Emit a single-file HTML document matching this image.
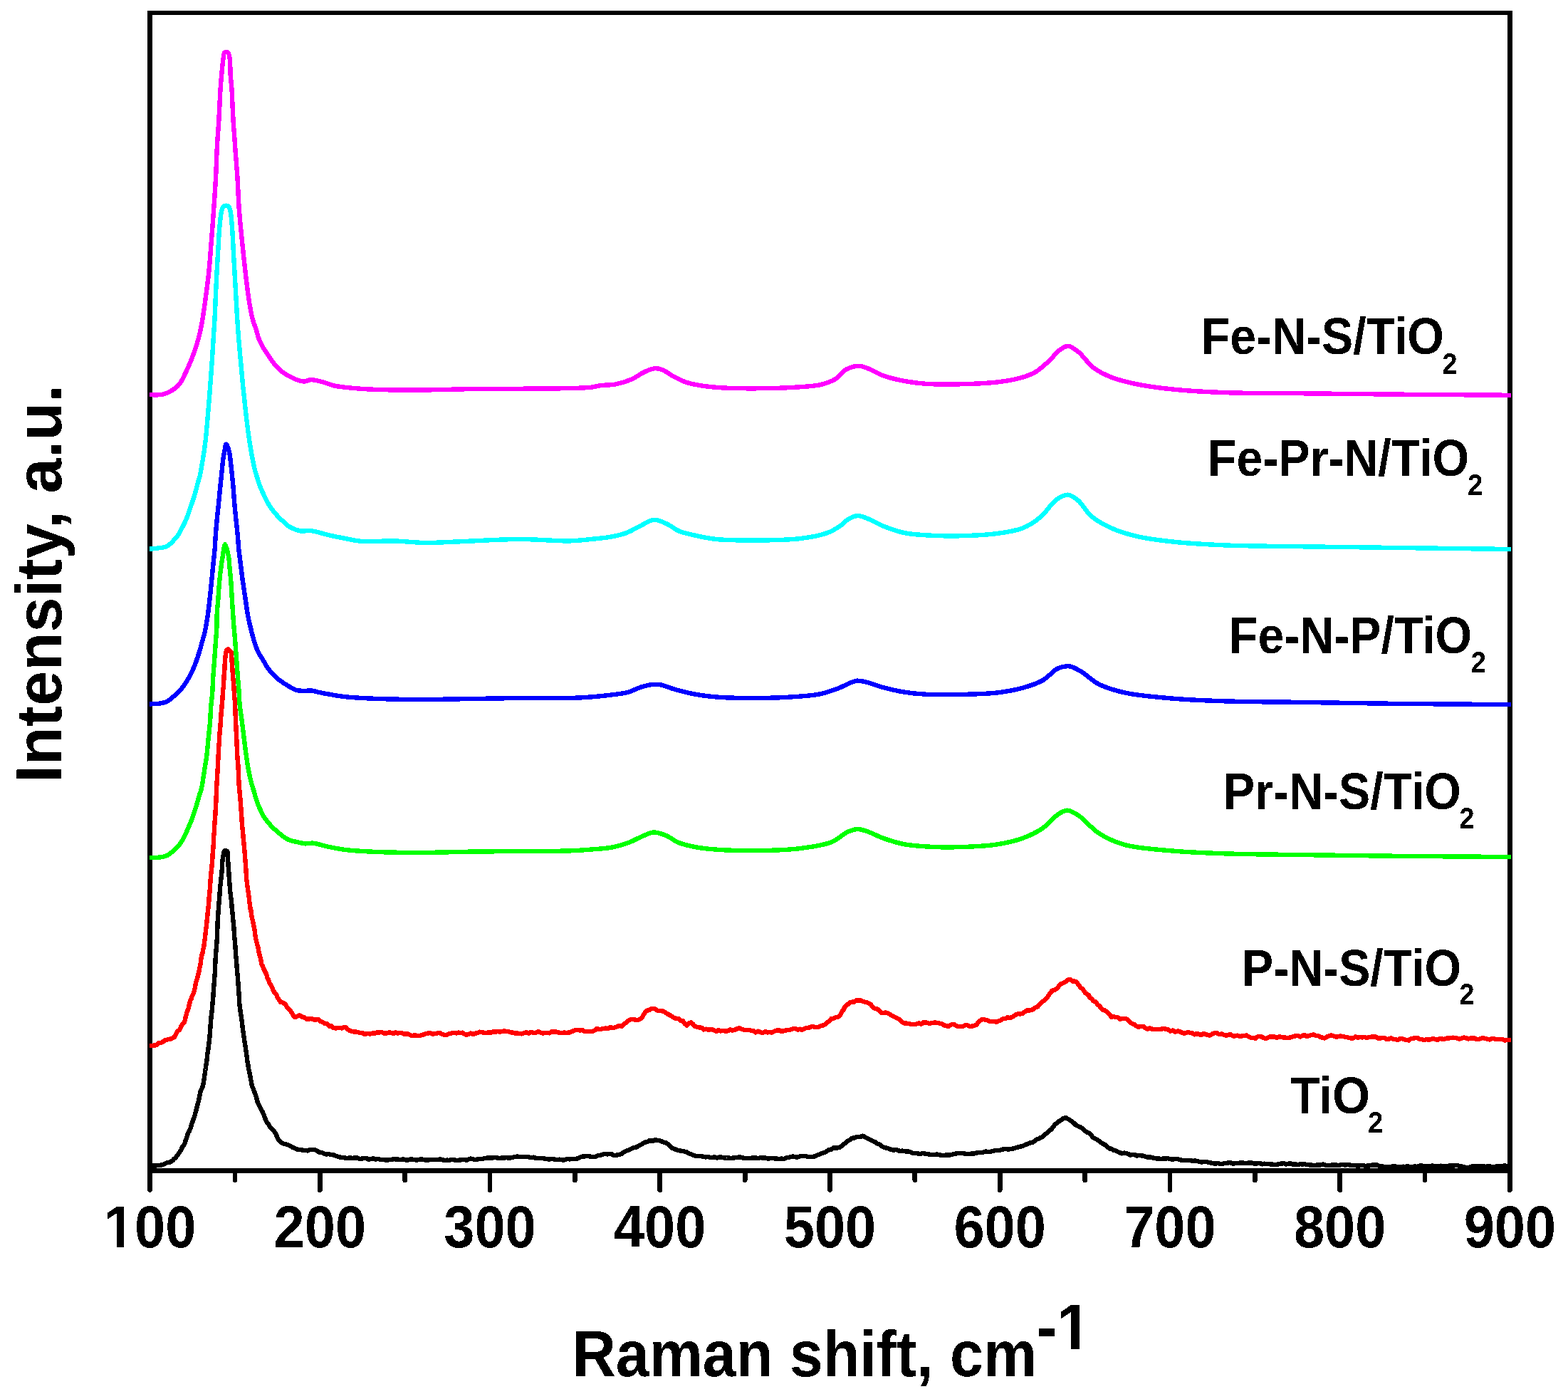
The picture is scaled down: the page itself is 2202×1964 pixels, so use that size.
<!DOCTYPE html>
<html><head><meta charset="utf-8"><title>Raman spectra</title>
<style>html,body{margin:0;padding:0;background:#fff;overflow:hidden}svg{display:block}</style>
</head><body>
<svg width="2202" height="1964" viewBox="0 0 2202 1964" shape-rendering="crispEdges" font-family="'Liberation Sans', Arial, Helvetica, sans-serif" font-weight="bold">
<defs><filter id="bin" filterUnits="userSpaceOnUse" x="0" y="0" width="2202" height="1964"><feComponentTransfer><feFuncA type="discrete" tableValues="0 1"/></feComponentTransfer></filter></defs>
<rect x="0" y="0" width="2202" height="1964" fill="#fff"/>
<rect x="210.55" y="17.90" width="1909.85" height="1625.40" fill="none" stroke="#000" stroke-width="6.6"/>
<line x1="210.55" y1="1643.3" x2="210.55" y2="1670.6" stroke="#000" stroke-width="6.8" stroke-linecap="round"/>
<line x1="329.92" y1="1643.3" x2="329.92" y2="1656.8" stroke="#000" stroke-width="6.8" stroke-linecap="round"/>
<line x1="449.28" y1="1643.3" x2="449.28" y2="1670.6" stroke="#000" stroke-width="6.8" stroke-linecap="round"/>
<line x1="568.65" y1="1643.3" x2="568.65" y2="1656.8" stroke="#000" stroke-width="6.8" stroke-linecap="round"/>
<line x1="688.01" y1="1643.3" x2="688.01" y2="1670.6" stroke="#000" stroke-width="6.8" stroke-linecap="round"/>
<line x1="807.38" y1="1643.3" x2="807.38" y2="1656.8" stroke="#000" stroke-width="6.8" stroke-linecap="round"/>
<line x1="926.74" y1="1643.3" x2="926.74" y2="1670.6" stroke="#000" stroke-width="6.8" stroke-linecap="round"/>
<line x1="1046.11" y1="1643.3" x2="1046.11" y2="1656.8" stroke="#000" stroke-width="6.8" stroke-linecap="round"/>
<line x1="1165.47" y1="1643.3" x2="1165.47" y2="1670.6" stroke="#000" stroke-width="6.8" stroke-linecap="round"/>
<line x1="1284.84" y1="1643.3" x2="1284.84" y2="1656.8" stroke="#000" stroke-width="6.8" stroke-linecap="round"/>
<line x1="1404.21" y1="1643.3" x2="1404.21" y2="1670.6" stroke="#000" stroke-width="6.8" stroke-linecap="round"/>
<line x1="1523.57" y1="1643.3" x2="1523.57" y2="1656.8" stroke="#000" stroke-width="6.8" stroke-linecap="round"/>
<line x1="1642.94" y1="1643.3" x2="1642.94" y2="1670.6" stroke="#000" stroke-width="6.8" stroke-linecap="round"/>
<line x1="1762.30" y1="1643.3" x2="1762.30" y2="1656.8" stroke="#000" stroke-width="6.8" stroke-linecap="round"/>
<line x1="1881.67" y1="1643.3" x2="1881.67" y2="1670.6" stroke="#000" stroke-width="6.8" stroke-linecap="round"/>
<line x1="2001.03" y1="1643.3" x2="2001.03" y2="1656.8" stroke="#000" stroke-width="6.8" stroke-linecap="round"/>
<line x1="2120.40" y1="1643.3" x2="2120.40" y2="1670.6" stroke="#000" stroke-width="6.8" stroke-linecap="round"/>
<path d="M209.8 554.3C216.0 554.1 223.1 554.9 228.5 553.7C233.0 552.7 236.6 551.0 240.3 548.8C244.2 546.5 248.2 543.8 251.4 540.0C255.3 535.4 258.0 528.7 261.1 522.3C264.6 515.1 268.1 506.7 271.1 498.8C274.0 491.0 276.6 483.2 278.7 475.3C280.8 467.5 282.3 459.9 283.8 451.8C285.3 443.4 286.3 435.6 287.7 425.8C289.5 413.1 291.8 396.6 293.3 381.9C294.8 367.3 295.7 352.6 296.9 337.9C298.0 323.3 299.2 308.6 300.2 294.0C301.2 279.3 302.3 264.0 303.0 250.0C303.7 237.3 304.0 224.4 304.5 213.8C304.9 205.6 305.2 199.2 305.7 191.9C306.2 184.6 306.8 177.2 307.3 169.9C307.7 162.6 308.0 155.2 308.4 147.9C308.8 140.6 309.0 133.2 309.5 125.9C310.0 118.6 310.6 111.3 311.3 104.0C312.0 96.7 312.7 87.6 313.6 82.0C314.2 78.5 314.0 74.8 315.5 73.6C316.6 72.8 318.9 72.8 320.0 73.6C321.6 74.8 322.0 78.5 322.6 82.0C323.6 87.6 323.1 96.7 323.6 104.0C324.1 111.3 325.0 118.6 325.5 125.9C326.0 133.2 326.2 140.6 326.5 147.9C326.9 155.2 327.2 162.6 327.6 169.9C328.1 177.2 328.7 184.6 329.2 191.9C329.7 199.2 330.1 205.6 330.7 213.8C331.5 224.4 332.7 237.3 333.5 250.0C334.4 263.9 334.7 279.4 335.8 294.0C336.9 308.7 338.4 323.3 339.9 337.9C341.4 352.6 342.9 367.3 344.6 381.9C346.3 396.6 348.3 413.7 350.3 425.8C351.7 434.4 352.9 441.1 354.7 447.8C356.2 453.5 358.4 458.6 359.9 463.5C361.2 467.7 361.9 471.4 363.4 475.3C364.9 479.3 366.8 483.2 369.0 487.0C371.2 491.0 374.1 494.9 376.7 498.8C379.4 502.8 381.7 506.8 384.9 510.6C388.3 514.7 392.4 519.0 396.7 522.3C401.0 525.6 406.4 528.4 410.8 530.5C414.4 532.2 417.9 533.7 421.0 534.5C423.5 535.2 425.6 535.7 428.0 535.5C430.6 535.3 433.2 533.4 436.0 533.2C438.9 533.0 442.2 533.8 445.0 534.3C447.5 534.8 449.1 535.2 452.0 536.0C456.7 537.3 463.9 540.3 470.5 541.7C477.8 543.3 485.7 543.9 494.0 544.7C503.2 545.6 511.9 546.2 523.4 546.7C539.6 547.4 560.5 547.6 582.0 547.6C608.4 547.6 638.5 546.4 670.0 546.0C706.5 545.6 758.7 545.9 788.0 545.3C805.3 544.9 819.1 544.9 829.4 543.8C835.6 543.1 838.8 541.8 844.1 541.1C850.4 540.3 857.7 540.8 864.7 539.4C872.4 537.9 881.4 535.0 888.2 532.0C893.8 529.5 897.8 525.6 902.9 523.2C908.0 520.7 914.2 517.8 919.0 517.3C922.8 516.9 925.5 517.5 929.3 518.8C934.6 520.6 941.0 526.0 947.0 529.1C952.8 532.1 958.0 534.9 964.6 537.0C972.4 539.5 981.9 541.0 991.0 542.3C1000.5 543.6 1009.7 544.2 1020.5 544.7C1033.7 545.3 1049.9 545.4 1064.6 545.3C1079.3 545.2 1094.0 545.0 1108.7 544.1C1123.4 543.2 1141.0 542.8 1152.8 540.0C1161.1 538.0 1167.3 535.7 1173.3 532.0C1179.0 528.5 1182.5 521.8 1188.0 518.8C1193.3 515.9 1200.4 513.9 1205.7 513.8C1210.0 513.7 1212.9 515.1 1217.4 516.7C1224.0 519.0 1232.6 524.6 1241.0 527.6C1250.1 530.8 1260.5 533.1 1270.4 535.0C1280.1 536.8 1289.0 538.0 1299.8 538.8C1313.0 539.7 1328.2 539.7 1343.8 539.4C1361.4 539.1 1383.9 538.3 1400.0 536.5C1412.3 535.1 1422.7 533.4 1432.2 530.8C1440.2 528.6 1447.0 526.4 1453.6 522.6C1460.1 518.9 1465.7 513.5 1471.5 508.3C1477.6 502.8 1483.9 494.2 1489.4 490.4C1493.2 487.9 1496.3 485.6 1500.1 485.8C1504.6 486.1 1509.4 490.1 1514.4 494.0C1521.2 499.3 1527.9 510.5 1535.9 516.5C1543.5 522.2 1551.7 526.0 1561.0 529.7C1571.7 533.9 1583.5 536.7 1596.7 539.4C1612.7 542.7 1631.2 545.0 1650.4 546.9C1672.5 549.1 1695.6 550.3 1721.9 551.2C1754.0 552.3 1790.9 551.9 1829.2 552.3C1873.4 552.7 1924.0 553.3 1972.2 553.7C2021.6 554.1 2072.1 554.4 2122.0 554.8" fill="none" stroke="#ff00ff" stroke-width="6.4" stroke-linejoin="round" stroke-linecap="butt" shape-rendering="crispEdges"/>
<path d="M209.8 770.8C214.1 770.3 218.4 770.0 222.6 769.4C226.6 768.8 231.0 768.7 234.4 767.0C237.6 765.4 240.1 762.5 242.6 760.0C245.2 757.4 247.6 754.8 249.7 751.7C251.9 748.5 253.7 744.7 255.6 741.1C257.6 737.3 259.6 733.7 261.4 729.4C263.5 724.4 265.4 718.5 267.3 712.9C269.3 707.1 271.4 701.2 273.2 695.3C275.0 689.4 276.5 682.7 277.9 677.6C279.0 673.8 279.9 671.7 280.8 667.6C282.2 661.4 283.7 651.9 285.0 644.1C286.3 636.3 287.4 628.5 288.4 620.6C289.3 612.8 290.0 604.9 290.7 597.0C291.4 589.2 292.0 581.3 292.7 573.5C293.3 565.7 293.9 558.8 294.6 550.0C295.5 538.6 296.6 523.4 297.5 510.6C298.3 498.5 299.0 486.3 299.7 475.3C300.3 465.6 300.9 458.0 301.5 447.8C302.2 434.9 302.7 418.5 303.4 403.8C304.1 389.2 304.9 374.5 305.8 359.9C306.7 345.2 307.4 327.8 308.6 315.9C309.4 307.6 310.0 299.7 311.5 295.0C312.3 292.4 313.0 290.2 314.5 289.3C316.0 288.4 319.1 288.4 320.5 289.3C322.0 290.2 322.5 292.4 323.2 295.0C324.6 299.7 325.0 307.6 325.7 315.9C326.8 327.9 327.4 345.2 328.2 359.9C329.0 374.5 329.9 389.2 330.7 403.8C331.5 418.5 332.4 434.9 333.2 447.8C333.9 458.0 334.4 465.6 335.2 475.3C336.1 486.3 337.2 498.8 338.3 510.6C339.4 522.3 340.5 534.8 341.6 545.8C342.6 555.6 343.6 564.6 344.6 573.5C345.5 581.7 346.3 589.2 347.3 597.0C348.3 604.9 349.3 612.8 350.5 620.6C351.7 628.5 353.3 637.3 354.6 644.1C355.6 649.3 356.4 653.6 357.5 658.0C358.5 662.2 359.7 665.9 361.0 670.0C362.4 674.4 363.8 679.2 365.5 683.5C367.1 687.6 368.9 691.4 370.8 695.3C372.7 699.2 374.4 703.2 376.7 707.0C379.1 711.0 381.8 715.0 384.9 718.8C388.2 722.9 392.3 727.0 396.1 730.6C399.7 734.0 403.0 737.5 407.3 740.0C411.8 742.6 417.7 744.8 422.5 745.5C426.6 746.1 430.5 744.7 434.3 744.9C438.0 745.1 441.2 745.9 445.0 746.7C449.3 747.7 453.5 749.2 458.7 750.5C465.5 752.2 474.1 754.0 482.2 755.5C490.8 757.1 498.7 759.2 508.7 760.0C521.5 761.0 538.1 759.1 552.8 759.4C567.5 759.7 582.2 761.8 596.9 762.0C611.6 762.2 623.8 761.1 641.0 760.5C665.4 759.6 701.4 757.1 729.2 757.0C754.1 756.9 781.5 759.8 800.0 759.4C811.9 759.1 819.6 758.0 829.4 757.0C839.2 756.0 849.9 755.2 858.8 753.5C866.3 752.1 872.7 750.7 879.4 748.2C886.4 745.6 893.2 741.1 900.0 737.9C906.4 734.9 912.6 729.9 919.0 729.7C925.3 729.5 932.4 733.6 938.2 736.4C943.6 738.9 947.2 742.9 952.9 745.3C959.6 748.2 968.1 749.8 976.4 751.7C985.6 753.8 994.3 755.8 1005.8 757.0C1022.0 758.7 1045.0 758.6 1064.6 758.5C1084.2 758.4 1106.0 758.2 1123.4 756.1C1137.6 754.4 1151.5 751.9 1161.6 748.2C1168.8 745.6 1174.1 742.2 1179.2 738.8C1183.7 735.8 1186.7 731.6 1191.0 729.1C1195.1 726.7 1199.8 724.3 1204.2 724.1C1208.6 723.9 1212.5 725.8 1217.4 727.6C1224.2 730.1 1232.6 735.5 1241.0 738.8C1250.1 742.4 1259.5 746.0 1270.4 748.2C1283.5 750.8 1299.8 751.4 1314.5 752.0C1329.2 752.6 1344.1 752.5 1358.6 752.0C1372.6 751.5 1386.8 750.9 1400.0 749.0C1412.4 747.3 1425.3 745.7 1435.8 741.5C1445.2 737.8 1453.0 732.6 1460.8 726.2C1469.2 719.3 1476.4 706.3 1484.0 701.1C1489.4 697.4 1495.0 694.3 1500.1 694.7C1505.1 695.1 1509.7 699.0 1514.4 702.9C1520.5 708.0 1525.0 718.2 1532.3 724.4C1540.3 731.2 1550.6 736.8 1561.0 741.5C1572.0 746.5 1583.4 749.9 1596.7 753.0C1612.6 756.7 1631.2 758.9 1650.4 760.9C1672.5 763.2 1695.6 764.4 1721.9 765.5C1754.0 766.8 1790.9 766.7 1829.2 767.3C1873.4 767.9 1924.0 768.5 1972.2 769.1C2021.6 769.7 2072.1 770.4 2122.0 771.0" fill="none" stroke="#00ffff" stroke-width="6.4" stroke-linejoin="round" stroke-linecap="butt" shape-rendering="crispEdges"/>
<path d="M209.8 988.4C214.1 988.2 218.4 988.4 222.6 987.8C226.6 987.2 230.9 986.6 234.4 984.9C237.9 983.2 240.8 980.1 243.8 977.6C246.7 975.3 249.5 973.2 252.0 970.5C254.6 967.7 256.9 964.3 259.1 961.1C261.2 958.0 263.1 955.1 265.0 951.7C267.1 948.1 269.1 943.9 270.9 940.0C272.7 936.1 274.1 932.3 275.6 928.2C277.2 923.7 278.9 918.7 280.3 914.1C281.6 909.7 282.6 905.5 283.8 901.2C285.0 896.8 286.3 893.1 287.5 888.0C289.0 881.2 290.5 872.0 291.7 864.1C292.9 856.2 293.7 848.4 294.6 840.6C295.5 832.7 296.2 824.9 297.0 817.0C297.8 809.2 298.5 801.3 299.3 793.5C300.1 785.7 301.1 777.1 301.7 770.0C302.2 764.2 302.2 759.9 302.6 754.1C303.1 747.0 303.9 738.4 304.6 730.6C305.3 722.7 306.2 714.9 307.0 707.0C307.8 699.2 308.5 691.3 309.3 683.5C310.1 675.7 311.0 667.1 311.7 660.0C312.3 654.2 312.7 649.0 313.4 644.1C314.0 639.9 314.7 635.9 315.5 632.3C316.2 629.1 316.6 623.6 317.6 623.5C318.6 623.4 320.4 629.1 321.4 632.3C322.5 635.9 322.8 639.9 323.4 644.1C324.1 649.0 324.6 654.2 325.2 660.0C325.9 667.1 326.8 675.7 327.5 683.5C328.2 691.3 328.6 699.2 329.3 707.0C330.0 714.9 330.8 722.7 331.6 730.6C332.4 738.4 333.4 747.0 334.0 754.1C334.5 759.9 334.6 764.2 335.2 770.0C335.9 777.1 337.1 785.7 338.1 793.5C339.1 801.3 340.0 809.2 341.1 817.0C342.2 824.9 343.4 832.7 344.6 840.6C345.8 848.4 346.8 857.0 348.1 864.1C349.2 869.9 350.4 875.1 351.6 880.0C352.6 884.2 353.5 887.9 354.6 891.8C355.6 895.7 356.6 899.6 357.9 903.5C359.2 907.5 360.7 911.4 362.6 915.3C364.6 919.3 367.3 923.1 369.6 927.0C372.0 930.9 373.9 935.0 376.7 938.8C379.7 942.9 383.1 946.9 387.3 950.6C392.0 954.8 398.4 959.1 403.7 962.3C408.2 965.0 412.4 967.8 416.7 969.0C420.5 970.1 424.3 969.7 428.0 969.8C431.5 969.9 435.0 969.2 438.1 969.5C440.9 969.8 443.2 970.9 446.0 971.5C449.1 972.2 451.7 972.7 455.8 973.5C462.5 974.7 473.4 976.8 482.2 977.9C491.0 979.0 497.7 979.4 508.7 980.0C527.1 981.0 559.1 981.8 582.2 982.0C602.9 982.2 619.4 981.7 641.0 981.4C667.4 981.1 701.4 980.2 729.2 980.0C754.1 979.8 781.5 980.5 800.0 980.0C811.9 979.7 819.6 979.2 829.4 978.5C839.2 977.7 849.6 976.7 858.8 975.5C867.1 974.4 875.1 973.7 882.3 971.7C888.7 969.9 894.0 966.5 900.0 964.7C905.8 962.9 912.3 961.2 917.6 960.8C921.9 960.5 925.1 960.8 929.3 961.7C934.7 962.8 940.3 965.7 947.0 967.6C955.5 970.0 966.6 972.9 976.4 974.7C986.2 976.5 994.3 977.6 1005.8 978.5C1022.0 979.8 1045.0 980.1 1064.6 980.0C1084.2 979.9 1107.2 978.9 1123.4 977.6C1134.9 976.7 1143.6 976.1 1152.8 974.1C1161.2 972.3 1168.3 969.6 1176.3 966.7C1184.9 963.6 1195.1 956.8 1202.7 955.8C1208.2 955.1 1212.0 956.7 1217.4 957.9C1224.4 959.5 1232.6 963.1 1241.0 965.3C1250.2 967.7 1260.6 970.1 1270.4 971.7C1280.2 973.3 1288.3 974.1 1299.8 974.7C1316.0 975.5 1340.7 975.2 1358.6 974.7C1373.6 974.3 1386.8 974.1 1400.0 972.5C1412.4 971.0 1424.7 968.9 1435.8 965.8C1446.0 963.0 1455.9 959.9 1464.4 955.1C1472.4 950.6 1478.8 941.4 1485.8 938.3C1491.2 935.9 1496.6 934.8 1501.9 935.4C1507.4 936.1 1512.2 939.3 1518.0 942.6C1525.6 947.0 1533.6 955.7 1543.1 960.5C1553.6 965.8 1564.7 969.1 1578.8 972.3C1598.4 976.7 1626.5 978.9 1650.4 980.9C1674.2 982.9 1695.6 983.6 1721.9 984.4C1754.0 985.4 1790.9 985.4 1829.2 985.9C1873.4 986.5 1924.0 987.5 1972.2 988.0C2021.6 988.5 2072.1 988.7 2122.0 989.1" fill="none" stroke="#0000ff" stroke-width="6.4" stroke-linejoin="round" stroke-linecap="butt" shape-rendering="crispEdges"/>
<path d="M209.8 1204.3C214.1 1204.1 218.4 1204.3 222.6 1203.7C226.6 1203.2 230.8 1202.7 234.4 1201.1C237.9 1199.5 240.9 1196.7 243.8 1194.1C246.7 1191.6 249.6 1188.8 252.0 1185.8C254.3 1182.9 256.0 1179.8 257.9 1176.4C260.0 1172.5 261.9 1167.9 263.8 1163.5C265.8 1158.9 267.8 1154.4 269.7 1149.4C271.8 1143.9 273.8 1137.5 275.6 1131.7C277.3 1126.1 278.9 1119.7 280.3 1115.3C281.2 1112.2 282.0 1110.9 282.8 1107.6C284.2 1101.9 285.4 1091.9 286.7 1084.1C287.9 1076.3 289.3 1068.5 290.3 1060.6C291.3 1052.8 291.8 1044.9 292.6 1037.0C293.4 1029.2 294.4 1021.3 295.0 1013.5C295.6 1005.7 295.8 997.1 296.4 990.0C296.9 984.2 297.6 979.9 298.1 974.1C298.7 967.0 298.8 958.4 299.3 950.6C299.8 942.7 300.5 934.9 301.1 927.0C301.7 919.2 302.2 911.3 302.8 903.5C303.3 895.7 304.1 887.1 304.4 880.0C304.6 874.2 304.3 869.9 304.6 864.1C304.9 857.0 305.8 848.4 306.4 840.6C307.0 832.7 307.4 824.9 308.1 817.0C308.8 809.2 309.9 800.0 310.8 793.5C311.4 788.9 311.8 786.1 312.6 781.8C313.5 776.5 314.8 764.0 316.2 764.0C317.6 764.0 320.1 776.4 321.1 781.8C321.9 786.1 321.8 788.9 322.2 793.5C322.8 800.0 323.8 809.2 324.4 817.0C325.0 824.9 325.3 832.7 325.8 840.6C326.3 848.4 326.8 857.0 327.3 864.1C327.7 869.9 328.0 874.2 328.5 880.0C329.1 887.1 329.9 895.7 330.5 903.5C331.1 911.3 331.6 919.2 332.2 927.0C332.8 934.9 333.4 942.7 334.0 950.6C334.6 958.4 335.3 967.0 335.8 974.1C336.2 979.9 336.1 984.2 336.7 990.0C337.4 997.1 338.9 1005.7 339.9 1013.5C340.9 1021.3 341.8 1029.2 342.8 1037.0C343.8 1044.9 344.7 1052.8 345.8 1060.6C346.9 1068.5 348.2 1077.1 349.6 1084.1C350.7 1089.9 352.0 1095.1 353.3 1100.0C354.4 1104.2 355.7 1107.9 356.9 1111.8C358.0 1115.7 358.9 1119.6 360.2 1123.5C361.5 1127.5 363.1 1131.4 364.9 1135.3C366.7 1139.2 368.4 1143.2 370.8 1147.0C373.4 1151.1 376.7 1155.0 380.2 1158.8C384.0 1162.9 388.8 1167.1 393.1 1170.6C397.0 1173.7 400.8 1176.9 404.9 1178.8C408.7 1180.6 412.8 1181.1 416.7 1182.0C420.6 1182.9 424.5 1184.0 428.4 1184.3C432.3 1184.6 435.9 1183.3 440.2 1183.7C445.7 1184.2 452.1 1186.8 458.7 1188.2C466.0 1189.8 474.1 1191.5 482.2 1192.6C490.7 1193.8 497.6 1194.3 508.7 1195.0C527.1 1196.1 556.6 1196.9 582.2 1197.0C610.3 1197.1 638.2 1195.9 670.4 1195.5C709.5 1195.0 772.1 1195.4 800.0 1194.4C813.3 1193.9 819.6 1193.4 829.4 1192.6C839.2 1191.8 849.6 1191.4 858.8 1189.7C867.1 1188.1 875.1 1185.8 882.3 1183.2C888.7 1180.8 894.1 1177.5 900.0 1175.0C905.8 1172.6 911.7 1168.8 917.6 1168.5C923.4 1168.2 929.5 1170.6 935.2 1172.9C941.3 1175.3 946.4 1180.3 952.9 1182.9C960.0 1185.8 968.1 1187.5 976.4 1189.1C985.6 1190.9 994.3 1191.8 1005.8 1192.6C1022.0 1193.8 1045.0 1194.3 1064.6 1194.1C1084.2 1193.9 1105.3 1193.4 1123.4 1191.1C1139.2 1189.1 1155.4 1187.1 1167.5 1182.3C1177.0 1178.5 1184.1 1170.6 1191.0 1167.6C1195.9 1165.5 1199.8 1164.2 1204.2 1164.1C1208.6 1164.0 1212.4 1165.4 1217.4 1167.0C1224.2 1169.2 1232.6 1174.0 1241.0 1177.0C1250.2 1180.2 1259.5 1183.3 1270.4 1185.3C1283.5 1187.7 1299.8 1188.5 1314.5 1189.1C1329.2 1189.7 1344.1 1189.4 1358.6 1188.8C1372.6 1188.2 1386.8 1187.6 1400.0 1185.5C1412.4 1183.5 1424.7 1180.9 1435.8 1176.9C1446.1 1173.1 1456.1 1168.3 1464.4 1162.6C1472.0 1157.4 1477.7 1149.0 1484.0 1144.7C1488.9 1141.3 1493.4 1137.7 1498.4 1137.6C1503.6 1137.5 1508.6 1141.0 1514.4 1144.7C1523.0 1150.1 1532.5 1162.9 1543.1 1169.7C1553.9 1176.6 1564.5 1181.8 1578.8 1185.8C1598.2 1191.3 1626.5 1192.7 1650.4 1194.8C1674.2 1196.9 1695.6 1197.5 1721.9 1198.4C1754.0 1199.5 1790.9 1199.6 1829.2 1200.1C1873.4 1200.7 1924.0 1201.4 1972.2 1201.9C2021.6 1202.4 2072.1 1202.6 2122.0 1203.0" fill="none" stroke="#00ff00" stroke-width="6.4" stroke-linejoin="round" stroke-linecap="butt" shape-rendering="crispEdges"/>
<path d="M209.8 1468.2 213.4 1468.2 216.8 1467.4 219.7 1467.3 222.6 1464.4 225.5 1464.2 228.5 1463.0 231.4 1460.2 234.4 1459.7 240.3 1458.3 245.0 1455.8 246.7 1452.6 248.2 1449.4 249.7 1447.4 252.1 1445.7 254.4 1440.8 256.1 1437.7 257.8 1436.0 259.1 1434.8 260.1 1430.6 260.9 1425.9 261.8 1424.6 262.8 1419.4 264.0 1417.9 265.0 1413.8 265.9 1409.9 266.8 1406.3 267.7 1403.7 268.7 1402.5 269.7 1398.5 270.8 1396.3 271.9 1393.9 272.9 1390.4 273.7 1387.7 274.4 1383.3 275.1 1379.7 275.8 1376.8 276.5 1375.4 277.3 1372.5 278.0 1369.1 278.7 1366.9 279.6 1362.9 280.4 1358.5 281.1 1355.9 281.7 1352.3 282.2 1347.1 282.8 1343.6 283.4 1340.7 284.1 1338.9 284.9 1336.1 285.5 1331.8 286.2 1329.5 286.9 1323.6 287.5 1319.5 287.9 1317.6 288.3 1313.1 288.6 1310.4 288.9 1305.8 289.3 1303.8 289.6 1301.7 290.0 1298.3 290.3 1295.8 290.7 1291.1 291.0 1288.2 291.4 1284.7 291.7 1281.2 292.0 1277.4 292.4 1275.0 292.7 1272.5 293.1 1268.0 293.4 1264.7 293.7 1259.5 294.0 1257.2 294.3 1254.2 294.5 1252.0 294.8 1248.6 295.0 1243.5 295.3 1239.7 295.5 1237.0 295.8 1232.2 296.1 1229.4 296.4 1225.6 296.8 1222.1 297.1 1218.5 297.4 1217.3 297.7 1213.1 297.9 1209.7 298.2 1206.8 298.4 1205.1 298.6 1199.9 298.9 1196.8 299.1 1193.9 299.3 1191.9 299.5 1189.0 299.7 1186.0 299.9 1180.9 300.1 1177.2 300.3 1173.4 300.5 1171.6 300.7 1169.2 301.0 1163.7 301.2 1159.4 301.5 1155.7 301.7 1152.2 302.0 1149.5 302.2 1146.9 302.4 1142.8 302.6 1138.3 302.8 1135.7 302.9 1132.5 303.1 1129.9 303.2 1128.2 303.4 1124.8 303.6 1120.8 303.7 1117.4 303.8 1114.1 304.0 1108.8 304.1 1107.2 304.2 1104.4 304.4 1101.8 304.6 1098.5 304.8 1094.2 305.0 1090.5 305.3 1086.1 305.5 1083.9 305.7 1079.5 305.9 1075.6 306.1 1072.4 306.2 1068.8 306.4 1065.9 306.6 1061.8 306.8 1057.9 307.0 1054.8 307.2 1051.3 307.3 1048.8 307.5 1044.7 307.7 1043.8 307.9 1040.7 308.1 1036.1 308.3 1032.4 308.6 1029.2 308.8 1025.9 309.0 1021.9 309.3 1020.5 309.5 1018.6 309.8 1014.2 310.1 1010.5 310.3 1005.7 310.6 1001.7 310.9 998.8 311.1 995.4 311.4 993.8 311.7 989.1 311.9 985.0 312.2 984.4 312.4 981.2 312.7 976.7 312.9 974.2 313.1 969.8 313.4 967.6 313.6 966.4 313.8 964.0 314.0 960.3 314.3 955.4 314.5 951.7 314.7 947.5 315.0 945.7 315.2 942.4 315.4 939.8 315.6 935.2 315.8 930.6 316.0 928.3 316.2 925.9 316.4 922.7 316.7 919.7 317.0 917.3 318.3 912.6 320.5 911.2 323.0 914.1 324.0 914.9 324.5 915.4 324.9 917.5 325.2 921.4 325.5 925.5 325.8 931.0 326.1 936.5 326.4 939.3 326.7 943.8 326.9 947.9 327.2 951.5 327.4 953.1 327.6 955.1 327.9 957.8 328.1 960.8 328.4 963.9 328.6 968.5 328.9 973.3 329.2 977.2 329.4 979.7 329.7 983.2 329.9 987.2 330.1 988.2 330.2 992.0 330.4 996.4 330.5 999.7 330.6 1002.8 330.7 1005.1 330.8 1006.8 331.0 1011.1 331.1 1013.3 331.3 1017.8 331.4 1022.3 331.6 1024.3 331.7 1027.0 331.9 1031.8 332.0 1035.1 332.2 1036.7 332.4 1039.0 332.5 1041.9 332.7 1047.5 332.9 1051.7 333.0 1053.3 333.2 1058.0 333.4 1062.5 333.6 1065.4 333.8 1067.6 334.1 1071.1 334.3 1073.1 334.5 1075.5 334.7 1081.3 334.9 1084.8 335.1 1088.0 335.2 1092.5 335.3 1094.8 335.5 1098.9 335.6 1102.5 335.8 1104.0 336.0 1106.4 336.3 1109.4 336.6 1112.3 336.9 1116.5 337.2 1119.2 337.5 1122.8 337.8 1125.2 338.0 1130.6 338.3 1133.2 338.5 1136.6 338.8 1140.4 339.0 1145.0 339.3 1147.4 339.6 1151.9 339.8 1154.5 340.0 1157.6 340.3 1160.8 340.5 1162.5 340.8 1166.4 341.1 1169.1 341.4 1171.6 341.7 1177.1 342.1 1179.5 342.4 1183.4 342.8 1187.8 343.1 1191.1 343.4 1193.7 343.7 1197.4 344.0 1201.1 344.2 1205.4 344.5 1207.1 344.7 1211.0 345.0 1213.6 345.2 1216.4 345.4 1221.2 345.6 1224.2 345.8 1227.4 346.0 1231.1 346.3 1235.3 346.6 1237.3 347.0 1240.6 347.4 1243.6 347.9 1246.9 348.4 1250.9 348.8 1253.8 349.3 1257.2 349.8 1260.4 350.2 1265.2 350.7 1268.5 351.2 1272.4 351.7 1276.2 352.3 1277.6 352.8 1281.0 353.4 1285.6 353.9 1289.4 354.5 1290.7 355.1 1293.0 355.7 1296.9 356.3 1299.2 356.9 1302.4 357.5 1305.3 358.1 1310.2 358.7 1314.6 359.3 1318.6 359.9 1319.7 360.6 1323.6 361.3 1326.8 362.1 1328.1 362.8 1332.6 363.5 1336.6 364.1 1337.7 364.8 1342.1 365.5 1343.9 366.2 1346.6 366.9 1351.1 367.6 1354.3 368.5 1355.2 369.6 1358.0 370.7 1361.1 372.0 1363.5 373.2 1365.7 374.4 1368.7 375.5 1373.0 376.7 1374.4 377.9 1378.2 379.2 1381.3 380.6 1383.0 382.1 1386.3 383.7 1390.3 385.6 1393.5 387.6 1395.1 389.7 1400.3 392.0 1403.6 394.1 1406.9 396.3 1406.9 398.6 1408.5 400.9 1409.8 403.1 1414.0 405.3 1416.1 407.5 1418.2 409.7 1421.7 412.0 1425.9 414.3 1428.1 417.4 1427.0 420.5 1425.3 423.7 1427.2 427.2 1428.4 430.8 1430.8 434.3 1430.6 437.5 1430.0 440.6 1431.5 443.7 1431.6 446.7 1430.9 449.6 1433.6 452.7 1434.7 455.8 1436.9 459.1 1437.1 462.4 1440.7 465.5 1440.5 468.5 1443.2 471.5 1443.4 474.4 1443.1 477.4 1443.0 480.4 1443.4 483.3 1441.9 485.7 1442.1 488.0 1444.9 490.5 1446.6 493.5 1447.7 496.0 1448.3 498.9 1448.4 501.9 1449.1 505.3 1449.8 508.7 1450.2 512.3 1451.8 515.9 1451.1 519.5 1451.5 523.0 1450.6 526.0 1450.7 529.2 1449.6 532.4 1449.7 535.7 1448.9 539.1 1450.6 542.4 1450.7 545.7 1449.5 549.0 1449.7 552.2 1451.2 555.3 1449.3 558.2 1450.6 561.0 1450.1 564.3 1450.3 567.2 1451.7 570.0 1451.2 572.7 1451.6 575.5 1452.6 578.7 1454.2 582.2 1453.0 584.6 1454.0 587.1 1454.0 589.7 1453.9 592.4 1453.0 595.3 1452.3 598.2 1451.0 601.2 1450.6 604.3 1450.1 607.4 1451.9 610.6 1451.2 613.9 1450.5 617.2 1449.8 620.5 1451.8 623.9 1452.9 627.3 1452.7 630.7 1451.3 634.2 1450.4 637.6 1450.1 641.0 1450.4 643.8 1449.6 646.6 1450.1 649.4 1449.7 652.3 1451.8 655.3 1452.8 658.3 1451.9 661.3 1450.5 664.3 1452.1 667.4 1450.7 670.5 1450.2 673.6 1448.7 676.7 1449.2 679.9 1449.7 683.0 1450.1 686.2 1449.2 689.3 1449.8 692.5 1448.4 695.7 1448.6 698.8 1448.0 702.0 1448.8 705.1 1447.9 708.2 1447.5 711.3 1448.1 714.3 1448.1 717.4 1449.3 720.4 1449.6 723.4 1450.5 726.3 1450.6 729.2 1450.8 732.5 1451.4 735.7 1450.1 739.0 1449.2 742.4 1450.8 745.7 1448.9 749.0 1449.8 752.3 1449.9 755.6 1448.0 758.9 1449.6 762.2 1450.5 765.4 1450.0 768.6 1450.1 771.8 1450.4 774.9 1448.3 777.9 1448.5 781.0 1448.4 783.9 1449.5 786.8 1449.8 789.6 1450.1 792.3 1449.4 795.0 1450.0 797.5 1449.6 800.0 1449.4 803.9 1447.8 807.6 1446.3 811.1 1446.0 814.5 1446.5 817.7 1445.9 820.8 1448.0 823.8 1448.0 826.7 1448.1 829.4 1448.0 832.6 1447.7 835.4 1446.4 838.1 1443.9 840.9 1444.7 844.1 1444.7 847.0 1443.9 850.3 1443.6 853.8 1443.8 857.5 1442.0 861.2 1443.1 864.7 1442.0 868.1 1440.6 871.0 1440.1 873.5 1440.7 876.2 1437.8 878.1 1436.6 880.0 1435.5 882.3 1432.8 885.7 1431.3 889.5 1431.2 893.4 1431.9 897.0 1431.7 899.6 1430.0 902.0 1427.8 904.3 1423.6 906.5 1420.6 908.8 1418.7 911.9 1418.2 914.9 1415.8 917.6 1415.8 920.5 1416.7 923.5 1418.9 927.6 1418.9 932.3 1419.9 935.1 1421.8 938.0 1424.0 941.1 1425.0 944.1 1427.3 947.0 1428.9 950.1 1430.2 953.2 1430.1 956.1 1433.0 958.7 1432.8 961.8 1437.3 964.6 1439.9 967.4 1436.3 970.5 1435.4 973.1 1437.6 975.8 1440.7 978.9 1441.9 982.3 1442.6 985.2 1442.7 988.3 1445.5 991.6 1444.7 995.1 1445.8 998.6 1445.0 1002.2 1446.0 1005.8 1447.9 1008.9 1446.2 1012.1 1447.4 1015.3 1446.9 1018.6 1447.6 1022.0 1447.3 1025.3 1445.4 1028.6 1446.6 1031.9 1445.8 1035.2 1444.1 1038.5 1443.3 1041.7 1444.8 1045.0 1445.7 1048.3 1446.0 1051.5 1445.9 1054.8 1446.8 1058.1 1447.3 1061.3 1449.4 1064.6 1447.7 1067.9 1449.2 1071.1 1450.1 1074.4 1448.1 1077.7 1449.4 1080.9 1449.2 1084.2 1449.5 1087.5 1447.6 1090.7 1446.7 1094.0 1446.2 1097.3 1447.9 1100.5 1447.4 1103.8 1446.4 1107.1 1446.1 1110.4 1445.4 1113.6 1444.2 1116.9 1443.7 1120.1 1445.6 1123.4 1444.6 1126.4 1445.9 1129.5 1444.1 1132.6 1443.0 1135.7 1442.9 1138.8 1441.5 1141.9 1441.0 1144.8 1442.2 1147.6 1442.2 1150.3 1441.5 1152.8 1440.1 1156.2 1439.3 1159.2 1438.0 1162.0 1435.2 1164.7 1433.5 1167.5 1429.9 1170.6 1429.7 1173.6 1428.2 1176.5 1427.8 1179.2 1426.2 1181.1 1423.0 1182.8 1419.1 1184.3 1418.5 1186.0 1414.3 1188.0 1412.4 1190.6 1409.9 1193.5 1407.4 1196.6 1406.7 1199.7 1406.6 1202.7 1404.2 1205.7 1404.6 1208.6 1404.3 1211.5 1405.8 1214.5 1406.7 1217.4 1407.2 1220.3 1408.5 1223.2 1410.4 1226.2 1414.6 1229.2 1416.1 1232.1 1416.5 1235.1 1419.4 1238.0 1421.8 1241.0 1421.8 1243.9 1421.6 1246.8 1422.5 1249.6 1423.6 1252.4 1425.8 1255.3 1427.0 1258.6 1428.7 1261.2 1430.0 1264.1 1432.2 1267.1 1435.0 1270.2 1436.5 1273.4 1436.6 1276.5 1437.1 1279.6 1438.0 1282.4 1438.1 1285.1 1438.1 1288.2 1436.9 1291.0 1436.4 1293.7 1437.8 1296.6 1435.4 1299.8 1435.4 1302.6 1436.0 1305.6 1437.1 1308.8 1435.9 1312.0 1435.6 1315.4 1435.7 1318.8 1436.5 1322.3 1437.2 1325.7 1439.3 1329.1 1440.2 1332.3 1440.8 1335.6 1438.6 1339.0 1437.7 1342.3 1439.6 1345.7 1441.3 1349.0 1440.8 1352.3 1441.0 1355.5 1439.2 1358.6 1439.3 1361.5 1440.9 1364.7 1440.7 1367.8 1439.9 1370.8 1439.1 1373.6 1435.6 1376.4 1432.8 1379.2 1431.1 1382.1 1431.3 1385.7 1432.0 1389.3 1433.6 1392.9 1434.1 1396.5 1434.3 1400.0 1434.5 1403.0 1433.1 1406.0 1432.3 1409.0 1429.7 1411.9 1430.2 1414.9 1428.2 1417.9 1429.0 1420.9 1428.1 1423.8 1426.2 1426.8 1424.2 1429.7 1423.2 1432.7 1423.4 1435.8 1423.1 1438.8 1420.6 1441.9 1418.6 1445.1 1418.6 1448.3 1418.1 1451.4 1416.5 1454.4 1414.3 1457.2 1413.4 1459.7 1409.9 1462.0 1407.8 1464.3 1405.8 1466.5 1405.0 1468.7 1402.3 1470.8 1400.4 1472.9 1397.0 1475.1 1393.5 1478.0 1390.5 1480.8 1390.2 1483.6 1388.2 1486.5 1385.1 1489.4 1381.6 1492.2 1380.4 1495.1 1379.2 1498.0 1376.9 1500.9 1374.9 1503.7 1375.5 1506.1 1377.5 1508.5 1377.4 1510.8 1378.0 1513.1 1380.6 1515.5 1383.5 1518.0 1386.9 1520.0 1387.8 1522.1 1391.2 1524.2 1393.8 1526.3 1395.5 1528.5 1396.6 1530.7 1400.7 1532.9 1401.8 1535.1 1405.1 1537.3 1405.9 1539.5 1407.2 1541.8 1410.8 1544.2 1412.2 1546.6 1416.1 1549.0 1417.7 1551.4 1418.5 1553.8 1420.0 1556.2 1422.2 1558.6 1424.9 1561.0 1427.7 1563.9 1427.1 1566.7 1427.9 1569.5 1428.0 1572.4 1430.8 1575.5 1429.9 1578.8 1429.7 1581.4 1430.1 1584.0 1431.9 1586.9 1435.0 1589.8 1437.1 1592.8 1438.2 1595.9 1440.3 1599.0 1441.7 1602.1 1441.0 1605.3 1440.7 1608.4 1443.4 1611.5 1444.6 1614.6 1443.2 1617.8 1444.7 1621.1 1444.8 1624.3 1445.0 1627.6 1445.1 1630.8 1444.7 1634.1 1444.0 1637.4 1444.7 1640.6 1445.4 1643.9 1447.7 1647.1 1446.4 1650.4 1448.7 1653.4 1447.6 1656.4 1447.7 1659.3 1449.5 1662.3 1450.6 1665.3 1450.2 1668.2 1449.0 1671.2 1449.9 1674.2 1450.3 1677.2 1452.4 1680.1 1451.3 1683.1 1451.4 1686.1 1453.2 1689.3 1451.4 1692.6 1451.7 1695.9 1453.1 1699.1 1453.6 1702.4 1451.5 1705.6 1450.4 1708.9 1449.9 1712.1 1452.3 1715.4 1451.4 1718.6 1452.6 1721.9 1453.8 1725.1 1452.7 1728.2 1452.2 1731.3 1454.3 1734.4 1454.5 1737.5 1453.6 1740.6 1454.9 1743.8 1454.4 1747.0 1454.2 1750.4 1453.4 1754.0 1455.5 1757.7 1457.1 1760.3 1457.0 1763.0 1458.0 1765.8 1455.5 1768.7 1455.0 1771.6 1455.5 1774.6 1457.2 1777.6 1458.0 1780.7 1456.6 1783.9 1455.4 1787.1 1455.3 1790.3 1455.5 1793.5 1456.9 1796.8 1455.1 1800.1 1456.2 1803.4 1456.5 1806.6 1456.8 1809.9 1456.8 1813.2 1456.2 1816.5 1455.0 1819.7 1454.3 1822.9 1454.1 1826.1 1455.4 1829.2 1453.7 1832.3 1453.3 1835.4 1454.9 1838.5 1454.0 1841.6 1453.1 1844.7 1452.5 1847.9 1453.9 1851.0 1453.9 1854.1 1456.0 1857.2 1456.7 1860.3 1457.5 1863.4 1455.6 1866.5 1454.1 1869.6 1453.4 1872.7 1454.3 1875.8 1455.5 1878.9 1455.3 1882.0 1454.6 1885.2 1454.8 1888.3 1455.6 1891.4 1456.2 1894.5 1456.8 1897.6 1457.5 1900.7 1457.3 1903.8 1455.4 1906.9 1456.9 1910.0 1455.9 1913.1 1456.4 1916.2 1456.0 1919.4 1457.1 1922.5 1456.0 1925.6 1455.6 1928.7 1455.5 1931.8 1455.2 1934.9 1457.5 1938.0 1457.7 1941.1 1457.1 1944.2 1457.0 1947.3 1459.0 1950.4 1458.5 1953.5 1457.4 1956.7 1458.7 1959.8 1459.0 1962.9 1460.2 1966.0 1458.0 1969.1 1458.1 1972.2 1459.3 1975.3 1460.0 1978.4 1460.6 1981.5 1458.1 1984.6 1457.7 1987.7 1456.9 1990.8 1456.7 1993.9 1459.1 1997.0 1459.1 2000.1 1460.2 2003.2 1458.9 2006.3 1459.9 2009.3 1459.0 2012.4 1457.9 2015.6 1459.0 2018.7 1460.1 2021.8 1458.0 2024.9 1458.5 2028.0 1458.8 2031.2 1457.7 2034.3 1457.6 2037.5 1456.8 2040.6 1456.7 2043.8 1456.8 2046.7 1457.9 2049.7 1458.7 2052.7 1457.7 2055.6 1456.6 2058.6 1457.1 2061.6 1458.5 2064.6 1457.6 2067.6 1457.6 2070.6 1457.3 2073.6 1459.1 2076.6 1459.2 2079.7 1457.8 2082.7 1457.2 2085.7 1457.9 2088.7 1458.8 2091.8 1459.5 2094.8 1458.2 2097.8 1457.8 2100.9 1459.3 2103.9 1459.2 2106.9 1458.8 2109.9 1458.7 2113.0 1460.7 2116.0 1459.7 2119.0 1460.1 2122.0 1460.0" fill="none" stroke="#ff0000" stroke-width="6.4" stroke-linejoin="round" stroke-linecap="butt" shape-rendering="crispEdges"/>
<path d="M209.8 1637.0 213.4 1636.4 216.9 1636.6 220.3 1636.2 224.5 1635.8 228.5 1635.2 232.1 1633.4 235.6 1631.8 239.2 1631.6 242.6 1629.1 244.7 1626.7 246.6 1625.5 248.5 1622.5 250.5 1620.2 252.5 1616.8 254.4 1614.0 256.1 1610.3 257.7 1608.2 259.1 1606.1 260.3 1602.3 261.4 1599.0 262.6 1595.4 264.1 1590.6 265.8 1587.9 267.3 1584.4 268.6 1580.4 269.8 1576.0 270.9 1573.7 271.8 1570.6 272.7 1568.1 273.6 1565.7 274.4 1562.6 275.2 1560.1 276.0 1556.2 276.8 1553.7 277.5 1550.3 278.4 1547.6 279.2 1544.6 280.0 1539.8 280.8 1535.7 281.6 1532.2 282.5 1530.4 283.8 1527.3 285.0 1524.4 285.6 1521.3 286.1 1518.4 286.6 1514.9 287.1 1511.1 287.6 1507.7 288.0 1504.2 288.5 1501.5 289.0 1498.0 289.4 1495.1 289.9 1491.8 290.4 1488.8 290.8 1484.9 291.3 1480.3 291.7 1477.7 292.1 1474.9 292.6 1471.7 293.0 1467.7 293.5 1464.4 293.9 1460.0 294.3 1457.4 294.6 1453.9 294.9 1450.2 295.1 1446.3 295.3 1444.3 295.5 1442.1 295.7 1437.7 296.0 1435.4 296.2 1432.1 296.5 1428.3 296.8 1425.3 297.1 1423.3 297.5 1421.0 297.8 1416.7 298.1 1414.1 298.4 1410.0 298.6 1407.6 298.9 1403.9 299.1 1401.4 299.4 1398.7 299.6 1394.6 299.9 1391.9 300.2 1387.5 300.4 1383.2 300.7 1380.3 301.0 1376.1 301.2 1372.6 301.5 1369.6 301.7 1366.9 301.9 1362.9 302.0 1359.0 302.2 1357.0 302.3 1353.2 302.5 1351.0 302.6 1348.0 302.8 1343.8 303.0 1340.2 303.3 1336.9 303.6 1333.9 303.8 1330.6 304.1 1327.2 304.4 1323.8 304.6 1321.1 304.8 1317.6 304.9 1314.1 305.0 1311.4 305.2 1307.5 305.3 1304.0 305.4 1302.1 305.5 1298.7 305.6 1295.6 305.8 1291.5 306.0 1288.3 306.2 1285.3 306.5 1281.1 306.7 1278.5 307.0 1275.6 307.2 1271.3 307.5 1268.6 307.7 1265.3 308.0 1262.4 308.2 1258.6 308.5 1255.7 308.7 1252.7 309.0 1248.0 309.3 1244.1 309.6 1241.7 310.0 1239.3 310.3 1234.9 310.7 1231.4 311.1 1228.3 311.4 1224.6 311.7 1221.4 311.9 1217.8 312.1 1214.5 312.2 1211.8 312.4 1208.3 312.8 1205.3 313.5 1201.6 314.4 1196.3 315.8 1194.2 319.0 1194.8 319.8 1196.9 319.8 1200.7 319.9 1206.1 320.1 1208.4 320.4 1211.0 320.6 1214.5 320.8 1218.5 321.1 1221.1 321.3 1224.2 321.5 1227.5 321.8 1231.9 322.0 1235.0 322.3 1239.2 322.5 1241.6 322.8 1244.8 323.1 1248.7 323.4 1252.8 323.8 1255.7 324.1 1258.3 324.5 1261.1 324.9 1265.0 325.2 1268.0 325.5 1272.3 325.9 1276.3 326.2 1278.6 326.5 1281.6 326.9 1285.8 327.2 1289.3 327.5 1293.1 327.8 1295.6 328.0 1298.0 328.3 1301.1 328.5 1305.3 328.8 1308.0 329.0 1311.1 329.2 1314.4 329.5 1317.6 329.8 1320.8 330.0 1325.1 330.3 1327.3 330.6 1329.7 330.8 1334.3 331.1 1338.1 331.3 1341.8 331.6 1344.1 331.9 1348.1 332.1 1351.7 332.4 1353.8 332.6 1357.6 332.9 1361.3 333.1 1364.5 333.4 1367.4 333.7 1370.2 333.9 1373.3 334.2 1376.4 334.4 1379.2 334.7 1383.4 334.9 1386.6 335.2 1390.9 335.4 1393.2 335.7 1397.8 335.9 1401.4 336.1 1405.3 336.3 1408.9 336.6 1412.3 336.9 1415.0 337.3 1417.0 337.8 1421.1 338.2 1423.6 338.7 1426.8 339.2 1430.7 339.7 1434.0 340.1 1437.1 340.5 1441.3 340.9 1444.3 341.3 1446.9 341.7 1449.7 342.2 1454.0 342.7 1456.9 343.2 1460.7 343.7 1463.5 344.2 1466.2 344.8 1470.0 345.3 1474.1 345.8 1476.6 346.3 1480.8 346.8 1484.8 347.2 1488.2 347.7 1491.7 348.2 1493.5 348.7 1497.3 349.3 1501.4 349.9 1503.6 350.6 1507.0 351.3 1510.5 352.0 1514.6 352.7 1518.0 353.3 1521.2 354.0 1524.5 355.2 1527.5 356.5 1530.7 357.6 1533.7 358.7 1536.9 359.9 1540.1 361.0 1544.7 362.1 1548.3 363.3 1550.1 364.6 1553.3 366.0 1556.0 367.5 1558.8 369.1 1561.7 370.5 1565.3 371.7 1568.4 372.7 1571.0 373.8 1573.4 375.2 1576.3 376.9 1578.3 378.8 1581.3 380.9 1584.3 383.0 1586.2 384.9 1587.9 386.6 1590.4 388.1 1593.5 389.5 1597.0 391.2 1600.3 393.1 1602.0 395.8 1604.4 398.7 1605.8 401.8 1606.5 404.9 1607.4 407.8 1608.9 410.8 1610.8 413.7 1611.8 416.7 1613.3 420.6 1614.1 424.5 1614.4 428.4 1615.1 432.3 1615.4 436.2 1613.7 440.2 1613.8 443.1 1614.4 446.1 1616.2 449.2 1617.9 452.4 1618.1 455.8 1619.8 458.5 1620.5 461.3 1620.2 464.1 1620.7 467.1 1620.7 470.1 1622.3 473.1 1623.1 476.2 1624.3 479.3 1624.9 482.4 1625.2 485.5 1625.7 488.6 1625.8 491.8 1625.2 495.0 1626.0 498.3 1625.4 501.7 1625.5 505.1 1627.0 508.7 1626.4 511.6 1626.2 514.6 1626.1 517.7 1627.6 520.9 1627.0 524.1 1626.3 527.4 1627.6 530.7 1626.8 534.0 1627.8 537.3 1627.9 540.6 1628.3 543.8 1628.7 546.9 1628.1 549.9 1628.3 552.8 1626.9 556.3 1627.7 559.5 1627.6 562.7 1628.1 565.7 1627.2 568.8 1628.0 571.9 1628.9 575.1 1627.7 578.5 1627.6 582.2 1628.1 584.8 1628.8 587.5 1628.1 590.2 1627.6 593.0 1627.5 595.9 1628.2 598.9 1628.8 601.9 1628.4 604.9 1628.2 608.0 1628.1 611.2 1628.0 614.4 1628.1 617.6 1627.4 620.9 1627.9 624.2 1629.1 627.5 1628.6 630.8 1628.9 634.2 1627.9 637.6 1628.4 641.0 1628.8 643.8 1628.8 646.6 1628.4 649.4 1628.1 652.3 1628.2 655.3 1628.7 658.3 1627.4 661.3 1626.6 664.3 1627.4 667.4 1628.0 670.5 1627.5 673.6 1627.0 676.7 1627.2 679.9 1626.1 683.0 1625.7 686.2 1625.3 689.3 1625.7 692.5 1625.3 695.7 1624.9 698.8 1625.5 702.0 1626.3 705.1 1625.3 708.2 1625.6 711.3 1625.1 714.3 1625.7 717.4 1625.4 720.4 1624.6 723.4 1624.1 726.3 1623.4 729.2 1624.0 732.5 1624.1 735.8 1623.8 739.2 1624.1 742.6 1624.3 746.1 1625.3 749.6 1624.7 753.0 1626.2 756.5 1626.0 759.9 1626.2 763.4 1626.2 766.7 1627.0 770.1 1627.5 773.3 1627.3 776.5 1627.2 779.6 1627.7 782.6 1628.2 785.5 1627.7 788.3 1628.1 790.9 1628.7 793.4 1628.1 795.8 1627.2 798.0 1626.8 800.0 1627.4 804.5 1627.1 808.0 1627.0 811.3 1626.3 814.7 1624.5 818.3 1623.6 821.8 1623.3 825.5 1623.0 829.4 1623.7 832.5 1624.0 836.0 1623.9 839.5 1622.1 843.1 1622.0 846.6 1620.6 849.9 1620.0 852.9 1620.4 856.1 1619.8 859.1 1620.2 861.9 1622.2 864.7 1621.9 867.6 1621.3 870.4 1620.6 873.3 1619.6 876.4 1617.1 879.2 1615.9 882.1 1614.8 885.1 1613.6 888.2 1611.7 891.2 1610.8 894.1 1610.5 897.1 1608.5 900.1 1607.1 903.1 1604.8 906.0 1603.5 908.8 1603.1 911.8 1601.4 914.6 1601.6 917.5 1601.6 920.5 1600.0 923.4 1601.2 926.4 1601.1 929.4 1602.5 932.4 1603.7 935.2 1604.1 938.3 1606.5 941.2 1609.1 944.0 1611.9 947.0 1612.9 950.8 1614.4 954.8 1615.4 958.7 1615.9 961.6 1616.8 964.4 1617.4 967.3 1619.2 970.5 1620.4 973.7 1621.9 977.0 1622.8 980.5 1623.3 984.2 1622.9 988.1 1623.9 990.9 1624.4 993.9 1623.8 996.9 1625.0 1000.1 1625.2 1003.4 1624.3 1006.7 1625.5 1010.1 1624.6 1013.5 1624.6 1017.0 1625.4 1020.5 1625.6 1023.5 1625.6 1026.5 1625.9 1029.7 1625.6 1032.9 1625.2 1036.1 1624.7 1039.4 1624.3 1042.7 1625.4 1046.0 1626.0 1049.2 1625.9 1052.5 1626.3 1055.6 1625.7 1058.7 1625.3 1061.7 1625.3 1064.6 1626.3 1068.1 1625.2 1071.5 1625.7 1074.8 1625.5 1078.1 1626.6 1081.3 1626.3 1084.4 1626.2 1087.6 1626.3 1090.8 1626.6 1094.0 1627.2 1097.3 1626.5 1100.6 1627.0 1103.9 1625.5 1107.2 1624.9 1110.6 1624.1 1113.8 1623.5 1117.1 1624.3 1120.3 1624.5 1123.4 1623.4 1126.9 1622.8 1130.4 1622.9 1133.8 1623.7 1137.1 1624.2 1140.4 1624.1 1143.7 1623.5 1146.9 1621.9 1150.0 1621.0 1153.0 1619.4 1156.1 1618.5 1159.0 1617.4 1161.9 1615.4 1164.7 1613.9 1167.5 1613.7 1170.6 1611.5 1173.7 1611.6 1176.6 1611.4 1179.5 1610.8 1182.2 1608.6 1184.6 1606.8 1186.9 1604.8 1189.0 1602.8 1191.3 1601.5 1193.9 1599.8 1196.6 1597.8 1199.5 1597.5 1202.6 1596.3 1205.7 1595.8 1208.7 1595.8 1211.6 1594.6 1214.7 1596.2 1217.6 1597.7 1220.5 1599.1 1223.4 1600.8 1226.3 1602.3 1229.2 1603.3 1232.1 1605.5 1235.0 1606.5 1237.9 1608.7 1241.0 1610.6 1244.4 1611.5 1247.9 1612.4 1251.4 1613.9 1255.0 1614.7 1258.6 1614.0 1261.5 1615.3 1264.4 1615.9 1267.2 1615.5 1270.1 1616.2 1273.1 1616.6 1276.2 1616.6 1279.4 1617.7 1282.6 1619.1 1285.9 1618.7 1289.3 1619.6 1292.8 1619.8 1296.3 1618.9 1299.8 1619.9 1302.9 1620.1 1306.1 1620.9 1309.3 1620.9 1312.6 1621.1 1315.9 1620.5 1319.2 1621.2 1322.5 1621.9 1325.8 1622.1 1329.1 1621.3 1332.3 1621.6 1335.6 1621.2 1338.7 1620.2 1341.9 1619.5 1345.1 1619.2 1348.4 1619.2 1351.7 1619.1 1355.1 1619.6 1358.6 1620.1 1361.6 1619.9 1364.7 1619.4 1367.9 1619.4 1371.2 1618.5 1374.5 1618.1 1377.8 1618.3 1381.2 1617.5 1384.5 1616.4 1387.8 1617.1 1391.0 1616.9 1394.1 1615.9 1397.1 1615.2 1400.0 1615.0 1403.4 1614.9 1406.7 1614.1 1409.9 1613.1 1412.9 1612.9 1415.9 1613.9 1418.9 1612.9 1421.9 1612.7 1425.0 1611.8 1428.2 1610.9 1431.4 1609.9 1434.6 1609.4 1437.8 1608.2 1441.0 1606.7 1444.1 1605.5 1447.1 1604.3 1450.1 1603.7 1453.0 1601.7 1455.8 1599.7 1458.6 1598.7 1461.4 1597.1 1464.0 1596.0 1466.6 1593.1 1469.1 1591.4 1471.5 1589.6 1474.1 1586.5 1476.6 1585.5 1478.9 1582.1 1481.2 1579.0 1483.5 1577.2 1485.8 1574.9 1488.5 1573.6 1491.1 1571.6 1493.7 1569.8 1496.6 1569.0 1499.3 1570.8 1502.2 1571.9 1505.3 1574.7 1508.3 1576.8 1511.4 1579.9 1514.4 1581.2 1517.0 1582.3 1519.6 1583.8 1522.1 1586.5 1524.7 1588.5 1527.2 1589.8 1529.8 1590.9 1532.3 1593.5 1534.8 1596.5 1537.3 1598.4 1539.7 1599.2 1542.1 1600.8 1544.6 1602.7 1547.3 1604.8 1550.2 1606.4 1552.7 1607.6 1555.3 1610.1 1558.0 1612.4 1560.8 1612.7 1563.7 1614.9 1566.7 1615.4 1569.7 1616.9 1572.7 1618.2 1575.7 1619.4 1578.8 1618.5 1581.6 1618.9 1584.5 1620.0 1587.4 1621.5 1590.4 1620.8 1593.4 1621.0 1596.4 1622.5 1599.4 1621.9 1602.5 1622.4 1605.5 1622.7 1608.6 1623.7 1611.6 1624.9 1614.6 1624.2 1617.8 1625.2 1621.0 1625.8 1624.2 1626.4 1627.3 1626.3 1630.5 1627.1 1633.6 1626.5 1636.8 1626.5 1640.1 1626.2 1643.5 1627.3 1646.9 1627.4 1650.4 1627.2 1653.3 1627.0 1656.2 1628.1 1659.2 1628.6 1662.3 1629.2 1665.4 1629.1 1668.5 1629.3 1671.7 1628.9 1674.9 1630.0 1678.1 1629.3 1681.4 1630.0 1684.6 1631.1 1687.9 1631.6 1691.2 1630.8 1694.4 1630.8 1697.6 1632.2 1700.8 1632.5 1704.0 1633.3 1707.1 1633.7 1710.3 1633.1 1713.4 1633.8 1716.5 1633.9 1719.5 1633.1 1722.6 1632.9 1725.7 1632.2 1728.8 1632.5 1731.9 1633.8 1735.0 1632.8 1738.2 1633.3 1741.3 1632.6 1744.5 1632.2 1747.8 1633.2 1751.0 1632.9 1754.3 1632.4 1757.7 1632.4 1760.6 1633.4 1763.5 1633.8 1766.4 1632.9 1769.3 1632.9 1772.3 1634.4 1775.3 1633.7 1778.2 1634.0 1781.2 1633.9 1784.3 1634.6 1787.3 1634.6 1790.4 1635.0 1793.5 1634.8 1796.6 1633.9 1799.7 1633.5 1802.9 1633.2 1806.0 1634.5 1809.3 1633.7 1812.5 1633.2 1815.8 1634.9 1819.1 1634.2 1822.4 1635.2 1825.8 1634.2 1829.2 1634.5 1832.0 1634.1 1834.8 1635.2 1837.6 1635.3 1840.5 1635.5 1843.4 1635.8 1846.3 1636.2 1849.3 1635.4 1852.2 1635.5 1855.3 1635.3 1858.3 1634.6 1861.3 1635.7 1864.4 1635.8 1867.5 1636.3 1870.6 1635.3 1873.7 1635.6 1876.8 1635.6 1879.9 1636.1 1883.1 1635.1 1886.2 1635.2 1889.4 1635.5 1892.5 1634.9 1895.7 1635.6 1898.9 1636.3 1902.0 1636.1 1905.2 1636.4 1908.4 1636.6 1911.5 1635.9 1914.7 1635.8 1917.8 1637.1 1921.0 1636.4 1924.1 1636.3 1927.2 1635.6 1930.3 1635.5 1933.4 1635.4 1936.5 1636.9 1939.6 1637.2 1942.7 1637.7 1945.8 1638.2 1948.9 1637.7 1952.0 1638.1 1955.1 1637.5 1958.2 1637.0 1961.4 1637.8 1964.5 1638.2 1967.7 1638.4 1970.8 1637.7 1973.9 1637.9 1977.1 1637.2 1980.2 1638.1 1983.4 1638.4 1986.5 1637.3 1989.6 1638.0 1992.8 1636.9 1995.9 1636.2 1999.0 1637.1 2002.1 1636.7 2005.2 1637.0 2008.3 1637.3 2011.3 1636.3 2014.4 1637.2 2017.4 1636.8 2020.4 1636.8 2023.4 1636.7 2026.4 1637.5 2029.4 1637.8 2032.3 1637.1 2035.2 1636.4 2038.1 1636.4 2041.0 1636.7 2043.8 1636.2 2047.0 1636.1 2050.2 1637.2 2053.4 1637.7 2056.5 1638.5 2059.6 1638.9 2062.7 1638.9 2065.7 1637.9 2068.8 1637.0 2071.8 1636.8 2074.8 1637.1 2077.8 1637.3 2080.7 1637.5 2083.7 1637.2 2086.6 1638.0 2089.6 1637.3 2092.5 1637.4 2095.4 1638.2 2098.3 1638.5 2101.3 1637.6 2104.2 1637.1 2107.1 1637.9 2110.1 1636.8 2113.0 1636.4 2116.0 1637.1 2119.0 1637.4 2122.0 1637.6" fill="none" stroke="#000000" stroke-width="6.4" stroke-linejoin="round" stroke-linecap="butt" shape-rendering="crispEdges"/>
<g filter="url(#bin)">
<text transform="translate(210.6 1750.8) scale(0.9340 1)" font-size="83.1" text-anchor="middle">100</text>
<text transform="translate(449.3 1750.8) scale(0.9340 1)" font-size="83.1" text-anchor="middle">200</text>
<text transform="translate(688.0 1750.8) scale(0.9340 1)" font-size="83.1" text-anchor="middle">300</text>
<text transform="translate(926.7 1750.8) scale(0.9340 1)" font-size="83.1" text-anchor="middle">400</text>
<text transform="translate(1165.5 1750.8) scale(0.9340 1)" font-size="83.1" text-anchor="middle">500</text>
<text transform="translate(1404.2 1750.8) scale(0.9340 1)" font-size="83.1" text-anchor="middle">600</text>
<text transform="translate(1642.9 1750.8) scale(0.9340 1)" font-size="83.1" text-anchor="middle">700</text>
<text transform="translate(1881.7 1750.8) scale(0.9340 1)" font-size="83.1" text-anchor="middle">800</text>
<text transform="translate(2120.4 1750.8) scale(0.9340 1)" font-size="83.1" text-anchor="middle">900</text>
<text transform="translate(803.8 1932.0) scale(0.9260 1)" font-size="91.2" text-anchor="start">Raman shift, cm</text>
<text transform="translate(1456.0 1894.0) scale(0.9300 1)" font-size="91.2" text-anchor="start">-1</text>
<text transform="translate(86 1098.8) rotate(-90) scale(0.97 1)" font-size="91.2">Intensity, a.u.</text>
<text transform="translate(1686.8 497.1) scale(0.9140 1)" font-size="72.5" text-anchor="start">Fe-N-S/TiO</text>
<text transform="translate(2025.3 525.1) scale(0.9140 1)" font-size="42.0" text-anchor="start">2</text>
<text transform="translate(1696.1 667.8) scale(0.9140 1)" font-size="72.5" text-anchor="start">Fe-Pr-N/TiO</text>
<text transform="translate(2060.9 695.1) scale(0.9140 1)" font-size="42.0" text-anchor="start">2</text>
<text transform="translate(1726.0 917.3) scale(0.9140 1)" font-size="72.5" text-anchor="start">Fe-N-P/TiO</text>
<text transform="translate(2065.5 943.6) scale(0.9140 1)" font-size="42.0" text-anchor="start">2</text>
<text transform="translate(1718.1 1136.0) scale(0.9140 1)" font-size="72.5" text-anchor="start">Pr-N-S/TiO</text>
<text transform="translate(2049.2 1163.0) scale(0.9140 1)" font-size="42.0" text-anchor="start">2</text>
<text transform="translate(1744.0 1384.0) scale(0.9140 1)" font-size="72.5" text-anchor="start">P-N-S/TiO</text>
<text transform="translate(2049.2 1410.3) scale(0.9140 1)" font-size="42.0" text-anchor="start">2</text>
<text transform="translate(1811.8 1562.9) scale(0.9400 1)" font-size="72.5" text-anchor="start">TiO</text>
<text transform="translate(1921.0 1590.0) scale(0.9140 1)" font-size="42.0" text-anchor="start">2</text>
</g>
<rect x="150.0" y="1741.3" width="14.0" height="11.2" fill="#fff"/>
<rect x="174.0" y="1741.3" width="14.0" height="11.2" fill="#fff"/>
<rect x="1488.0" y="1883.5" width="16.0" height="12.0" fill="#fff"/>
<rect x="1516.0" y="1883.5" width="15.0" height="12.0" fill="#fff"/>
</svg>
</body></html>
